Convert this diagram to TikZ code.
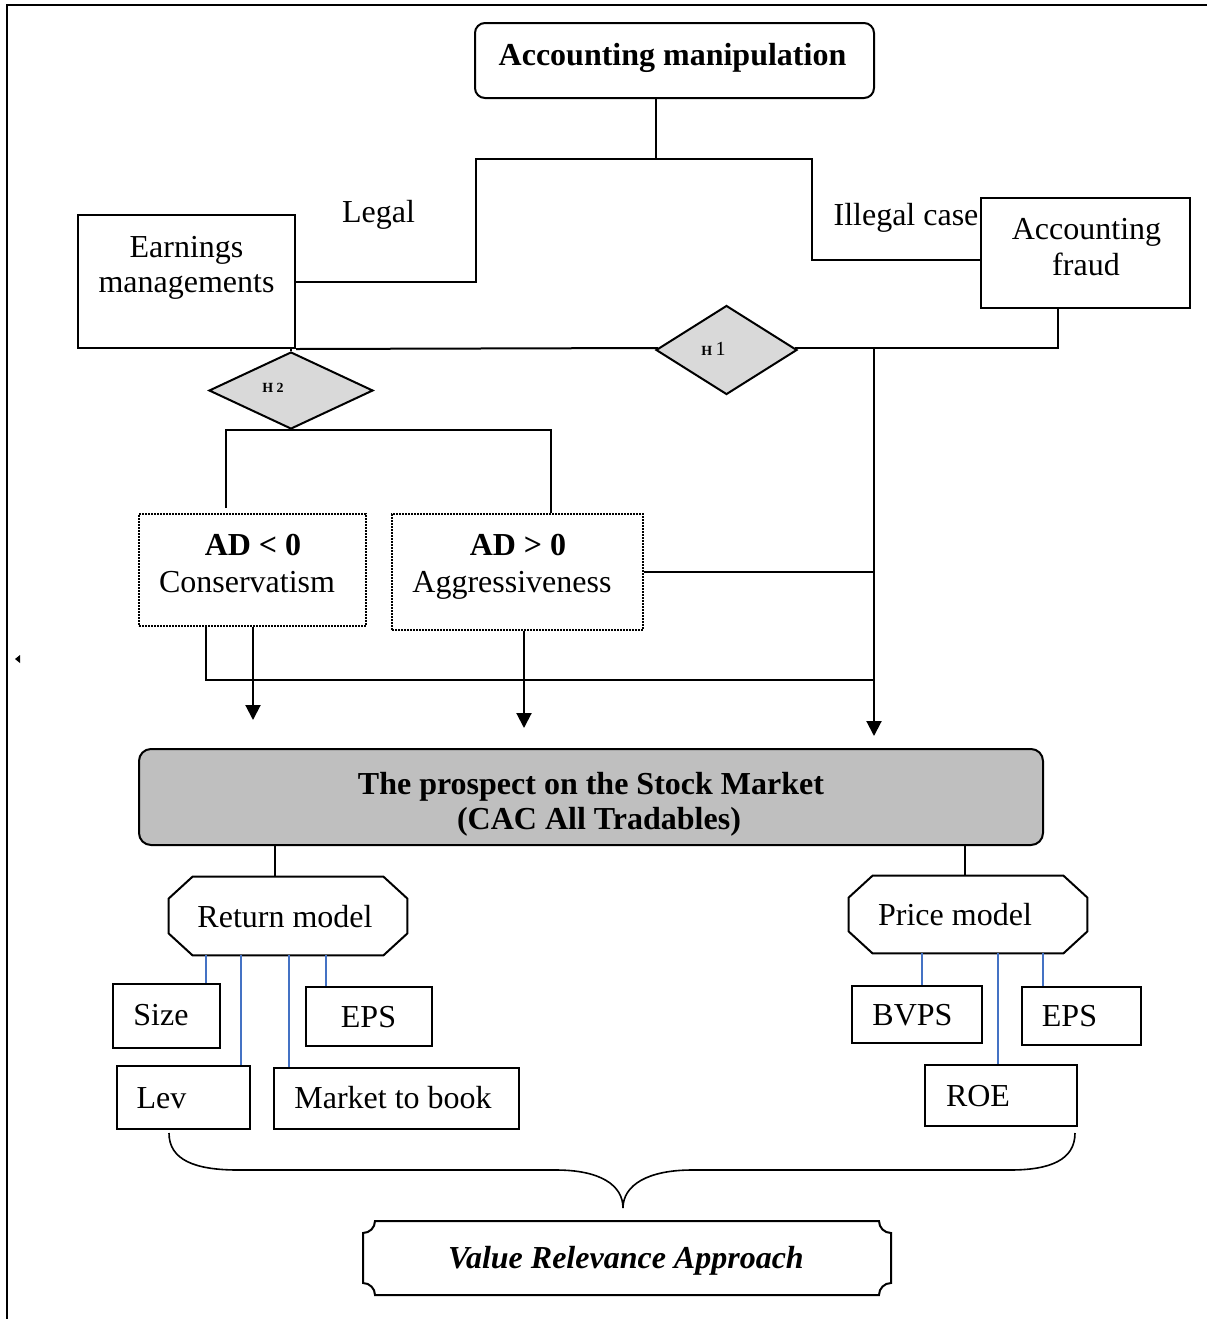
\documentclass[tikz,border=0pt]{standalone}
\usepackage{fontspec}
\setmainfont{Liberation Serif}
\usetikzlibrary{shapes.geometric,arrows.meta,calc}
\definecolor{bluecol}{RGB}{68,114,196}
\newcommand\octa[1]{%
  \draw[conn] ($(#1.north west)+(24,0)$) -- ($(#1.north east)+(-24,0)$) -- ($(#1.north east)+(0,22)$) -- ($(#1.south east)+(0,-22)$) -- ($(#1.south east)+(-24,0)$) -- ($(#1.south west)+(24,0)$) -- ($(#1.south west)+(0,-22)$) -- ($(#1.north west)+(0,22)$) -- cycle;}
\begin{document}
\begin{tikzpicture}[x=0.5pt,y=-0.5pt,
  conn/.style={line width=1pt},
  box/.style={draw, rectangle, line width=1pt, inner sep=0pt},
  ghost/.style={rectangle, inner sep=0pt},
  dotbox/.style={draw, rectangle, line width=1pt, inner sep=0pt, dash pattern=on 0.8pt off 0.7pt},
  dia/.style={diamond, draw, fill=black!15, line width=1pt, inner sep=0pt},
  txt/.style={anchor=base, inner sep=0pt, font=\fontsize{16}{19}\selectfont},
  arr/.style={line width=1pt, -{Triangle[width=7.5pt,length=7.5pt]}},
  blueline/.style={draw=bluecol, line width=1pt}]
\useasboundingbox (0,0) rectangle (1207,1319);

% frame
\draw[line width=1.3pt] (7,1319) -- (7,5) -- (1207,5);
\fill (15,659) -- (20,655) -- (20,663) -- cycle;

% top
\node[box, rounded corners=5pt, minimum width=199.5pt, minimum height=37.5pt] (am) at (674.5,60.5) {};
\node[txt] (amt) at (672.5,65) {\textbf{Accounting manipulation}};

\node[box, minimum width=108.5pt, minimum height=66.5pt] (em) at (186.5,281.5) {};
\node[txt] (emt1) at (186.5,257) {Earnings};
\node[txt] (emt2) at (186.5,292) {managements};

\node[box, minimum width=104.5pt, minimum height=55pt] (af) at (1085.5,253) {};
\node[txt] (aft1) at (1086.5,239) {Accounting};
\node[txt] (aft2) at (1086,275) {fraud};

\node[txt] (legal) at (378.5,222) {Legal};
\node[txt] (illegal) at (906,225) {Illegal case};

% diamonds
\node[dia, minimum width=70.5pt, minimum height=44.5pt] (h1) at (726.5,350) {};
\node[anchor=base west, inner sep=0pt] (h1t) at (701,355) {{\fontsize{7}{8}\selectfont\bfseries H}\,{\fontsize{10}{12}\selectfont 1}};
\node[dia, minimum width=82pt, minimum height=38.5pt] (h2) at (291,390.5) {};
\node[anchor=base, inner sep=0pt] (h2t) at (273,392) {\fontsize{7}{8}\selectfont\bfseries H 2};

% AD boxes
\node[dotbox, minimum width=113.5pt, minimum height=56pt] (ad1) at (252.5,570) {};
\node[txt] (ad1t1) at (253,555) {\textbf{AD < 0}};
\node[txt] (ad1t2) at (247,592) {Conservatism};
\node[dotbox, minimum width=125.5pt, minimum height=58pt] (ad2) at (517.5,572) {};
\node[txt] (ad2t1) at (518,555) {\textbf{AD > 0}};
\node[txt] (ad2t2) at (512,592) {Aggressiveness};

% stock market
\node[box, rounded corners=6pt, fill=gray!50, minimum width=452pt, minimum height=48pt] (sm) at (591,797) {};
\node[txt] (smt1) at (591,794) {\textbf{The prospect on the Stock Market}};
\node[txt] (smt2) at (599,829) {\textbf{(CAC All Tradables)}};

% models
\node[ghost, minimum width=119pt, minimum height=39pt] (rm) at (288,916) {};
\octa{rm}
\node[txt] (rmt) at (285,927) {Return model};
\node[ghost, minimum width=119pt, minimum height=38.5pt] (pm) at (968,914.5) {};
\octa{pm}
\node[txt] (pmt) at (955,925) {Price model};

% variable boxes
\node[box, minimum width=53.5pt, minimum height=32pt] (size) at (166.5,1016) {};
\node[txt] (sizet) at (161,1025) {Size};
\node[box, minimum width=63pt, minimum height=29.5pt] (eps1) at (369,1016.5) {};
\node[txt] (eps1t) at (368.5,1027) {EPS};
\node[box, minimum width=66.5pt, minimum height=31.5pt] (lev) at (183.5,1097.5) {};
\node[txt] (levt) at (161.5,1108) {Lev};
\node[box, minimum width=122.5pt, minimum height=30.5pt] (mtb) at (396.5,1098.5) {};
\node[txt] (mtbt) at (393,1108) {Market to book};
\node[box, minimum width=65pt, minimum height=28.5pt] (bvps) at (917,1014.5) {};
\node[txt] (bvpst) at (912.5,1025) {BVPS};
\node[box, minimum width=59.5pt, minimum height=29pt] (eps2) at (1081.5,1016) {};
\node[txt] (eps2t) at (1069.5,1026) {EPS};
\node[box, minimum width=76pt, minimum height=30.5pt] (roe) at (1001,1095.5) {};
\node[txt] (roet) at (978,1106) {ROE};

% value relevance
\node[ghost, minimum width=264pt, minimum height=37pt] (vr) at (627,1258) {};
\draw[conn] (375,1221) -- (879,1221) .. controls (879,1227.6) and (884.4,1233) .. (891,1233) -- (891,1283) .. controls (884.4,1283) and (879,1288.4) .. (879,1295) -- (375,1295) .. controls (375,1288.4) and (369.6,1283) .. (363,1283) -- (363,1233) .. controls (369.6,1233) and (375,1227.6) .. (375,1221) -- cycle;
\node[txt] (vrt) at (626,1268) {\textbf{\textit{Value Relevance Approach}}};

% brace
\coordinate (bL) at (169,1133);
\coordinate (bT) at (623,1208);
\coordinate (bR) at (1075,1133);
\draw[line width=0.8pt] (bL) .. controls (169,1160) and (195,1170) .. (238,1170) -- (556,1170) .. controls (600,1170) and (623,1185) .. (bT) .. controls (623,1185) and (648,1170) .. (692,1170) -- (1010,1170) .. controls (1050,1170) and (1075,1160) .. (bR);

% connectors
\coordinate (j1) at (656,159);
\coordinate (jL) at (476,159);
\coordinate (jR) at (812,159);
\coordinate (jF) at (812,260);
\coordinate (jA) at (1058,348);
\coordinate (jB) at (874,348);
\draw[conn] (am.south -| j1) -- (j1);
\draw[conn] (em.east) -| (jL) -- (jR) -- (jF) -- (af.west |- jF);
\draw[conn] (em.south east) -- ($(h1.west |- jA)+(3.2,0)$);
\draw[conn] ($(h1.east |- jA)+(-3.2,0)$) -- (jA) -- (af.south -| jA);
\draw[arr, shorten >=6pt] (jB) -- (sm.north -| jB);
\draw[conn] (ad2.east) -- (ad2.east -| jB);
\draw[conn] (h2.north) -- (h2.north |- em.south);
\coordinate (jC) at (226,508);
\coordinate (jD) at (551,429);
\draw[conn] (jC) |- (h2.south) -| (ad2.north -| jD);
\coordinate (jE) at (206,680);
\coordinate (jG) at (874,680);
\draw[conn] (ad1.south -| jE) -- (jE) -- (jG);
\draw[arr, shorten >=14pt] (ad1.south -| 253,0) -- (sm.north -| 253,0);
\draw[arr, shorten >=10pt] (ad2.south -| 524,0) -- (sm.north -| 524,0);

\draw[conn] (sm.south -| 275,0) -- (rm.north -| 275,0);
\draw[conn] (sm.south -| 965,0) -- (pm.north -| 965,0);

\draw[blueline] (rm.south -| 206,0) -- (size.north -| 206,0);
\draw[blueline] (rm.south -| 241,0) -- (lev.north -| 241,0);
\draw[blueline] (rm.south -| 289,0) -- (mtb.north -| 289,0);
\draw[blueline] (rm.south -| 326,0) -- (eps1.north -| 326,0);
\draw[blueline] (pm.south -| 922,0) -- (bvps.north -| 922,0);
\draw[blueline] (pm.south -| 998,0) -- (roe.north -| 998,0);
\draw[blueline] (pm.south -| 1043,0) -- (eps2.north -| 1043,0);
\end{tikzpicture}
\end{document}
